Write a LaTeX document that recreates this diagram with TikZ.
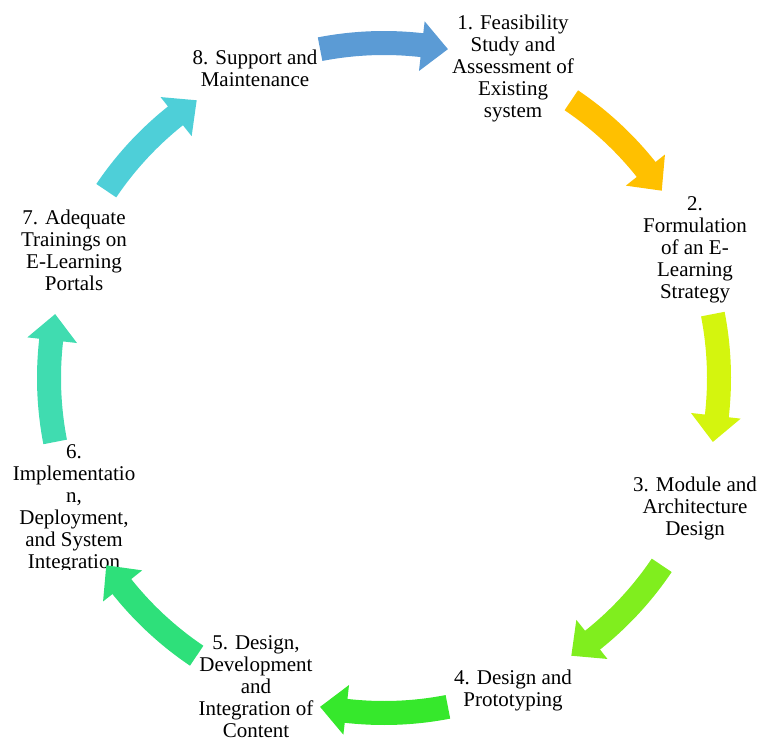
\documentclass[tikz,border=0pt]{standalone}
\usepackage{fontspec}
\setmainfont{Liberation Serif}
\definecolor{ca}{HTML}{5B9BD5}
\definecolor{cb}{HTML}{FFC000}
\definecolor{cc}{HTML}{D4F50E}
\definecolor{cd}{HTML}{80EE1E}
\definecolor{ce}{HTML}{36E82C}
\definecolor{cf}{HTML}{2EE07A}
\definecolor{cg}{HTML}{40DCB0}
\definecolor{ch}{HTML}{4ECFD8}
\tikzset{lbl/.style={align=center, font=\fontsize{21}{22}\selectfont, inner sep=0pt, text=black}}
\newcommand{\cyclearrow}[2]{%
  \pgfmathsetmacro{\aS}{#1-90-11}%
  \pgfmathsetmacro{\aB}{#1-90+6.5}%
  \pgfmathsetmacro{\aT}{#1-90+11}%
  \fill[#2] plot[domain=\aS:\aB,samples=30] (\x:347) -- (\aB:359) -- (\aT:335) -- (\aB:309) -- plot[domain=\aB:\aS,samples=30] (\x:323) -- cycle;
}
\begin{document}
\begin{tikzpicture}[x=1pt,y=-1pt]
\useasboundingbox (0,0) rectangle (759,741);
\node[lbl] (l1) at (513,68) {1. Feasibility\\Study and\\Assessment of\\Existing\\system};
\node[lbl] (l2) at (695,250) {2.\\Formulation\\of an E-\\Learning\\Strategy};
\node[lbl] (l3) at (695,508) {3. Module and\\Architecture\\Design};
\node[lbl] (l4) at (513,690) {4. Design and\\Prototyping};
\node[lbl] (l5) at (256,687) {5. Design,\\Development\\and\\Integration of\\Content};
\begin{scope}
\clip (0,430) rectangle (200,569);
\node[lbl] (l6) at (74,509) {6.\\Implementatio\\n,\\Deployment,\\and System\\Integration};
\end{scope}
\node[lbl] (l7) at (74,250) {7. Adequate\\Trainings on\\E-Learning\\Portals};
\node[lbl] (l8) at (255,68) {8. Support and\\Maintenance};
\begin{scope}[shift={(384,378)}]
\cyclearrow{0}{ca}
\cyclearrow{45}{cb}
\cyclearrow{90}{cc}
\cyclearrow{135}{cd}
\cyclearrow{180}{ce}
\cyclearrow{225}{cf}
\cyclearrow{270}{cg}
\cyclearrow{315}{ch}
\end{scope}
\end{tikzpicture}
\end{document}
